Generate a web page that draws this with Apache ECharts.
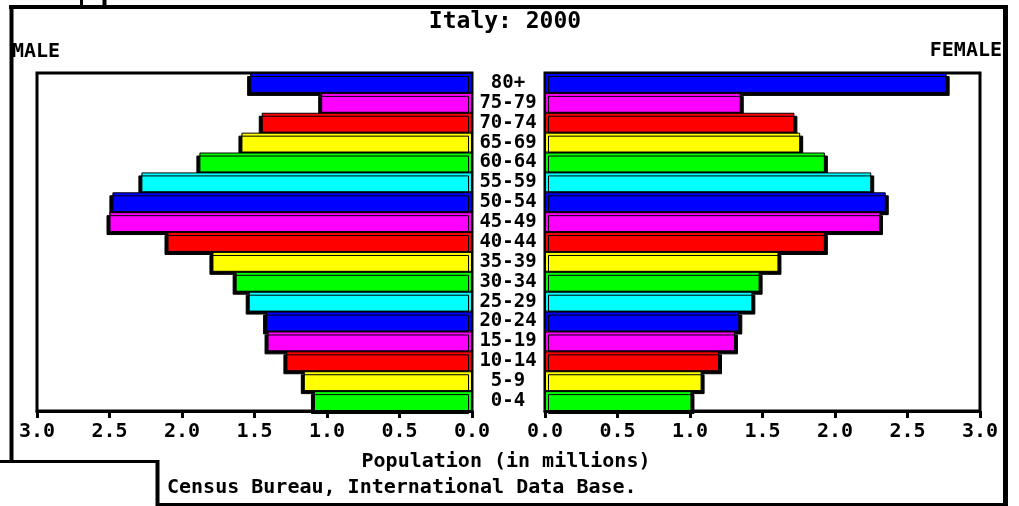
<!DOCTYPE html>
<html>
<head>
<meta charset="utf-8">
<title>Italy: 2000</title>
<script src="https://cdn.jsdelivr.net/npm/echarts@6/dist/echarts.min.js"></script>
<style>
  html, body { margin: 0; padding: 0; background: #fff; }
  #chart { width: 1019px; height: 506px; }
</style>
</head>
<body>
<div id="chart"></div>
<script>
// age groups listed top to bottom, as in the pyramid
const ageGroups = ["80+", "75-79", "70-74", "65-69", "60-64", "55-59", "50-54", "45-49", "40-44",
  "35-39", "30-34", "25-29", "20-24", "15-19", "10-14", "5-9", "0-4"];
const male = [1.53, 1.04, 1.45, 1.59, 1.88, 2.28, 2.48, 2.50, 2.10, 1.79, 1.63, 1.54, 1.42, 1.41, 1.28, 1.16, 1.09];
const female = [2.77, 1.35, 1.72, 1.76, 1.93, 2.25, 2.35, 2.31, 1.93, 1.61, 1.48, 1.43, 1.34, 1.31, 1.20, 1.08, 1.01];
// colours repeat from the youngest group upwards
const colorCycle = ["#00ff00", "#ffff00", "#ff0000", "#ff00ff", "#0000ff", "#00ffff"];
const xTicks = [0, 0.5, 1, 1.5, 2, 2.5, 3];

const FONT = "DejaVu Sans Mono";
const chart = echarts.init(document.getElementById("chart"), null, { renderer: "canvas" });

function colorFor(index) {
  const fromBottom = ageGroups.length - 1 - index;
  return colorCycle[fromBottom % colorCycle.length];
}

function barData(values) {
  return values.map((value, i) => ({ value, itemStyle: { color: colorFor(i) } }));
}

function valueAxis(gridIndex, inverse) {
  return {
    type: "value",
    gridIndex,
    inverse,
    min: xTicks[0],
    max: xTicks[xTicks.length - 1],
    interval: 0.5,
    axisLine: { show: true, lineStyle: { color: "#000", width: 3 } },
    axisTick: { show: true, length: 7, lineStyle: { color: "#000", width: 3 } },
    splitLine: { show: false },
    axisLabel: {
      color: "#000",
      fontFamily: FONT,
      fontWeight: "bold",
      fontSize: 20,
      margin: 11,
      formatter: (v) => v.toFixed(1),
    },
  };
}

function line(x1, y1, x2, y2, width) {
  return {
    type: "line",
    shape: { x1, y1, x2, y2 },
    style: { stroke: "#000", lineWidth: width },
    silent: true,
  };
}

function label(text, x, y, align, size) {
  return {
    type: "text",
    x,
    y,
    style: {
      text,
      fill: "#000",
      font: `bold ${size || 20}px "${FONT}"`,
      align,
      verticalAlign: "middle",
    },
    silent: true,
  };
}

const barStyle = (dx) => ({
  borderColor: "#000",
  borderWidth: 1,
  shadowColor: "#000",
  shadowBlur: 0,
  shadowOffsetX: dx,
  shadowOffsetY: 3,
});

chart.setOption({
  animation: false,
  backgroundColor: "#fff",
  grid: [
    { left: 37, top: 73, width: 435, height: 338, show: true, borderColor: "#000", borderWidth: 3, backgroundColor: "#fff" },
    { left: 545, top: 73, width: 435, height: 338, show: true, borderColor: "#000", borderWidth: 3, backgroundColor: "#fff" },
  ],
  xAxis: [valueAxis(0, true), valueAxis(1, false)],
  yAxis: [
    {
      type: "category",
      gridIndex: 0,
      data: ageGroups,
      inverse: true,
      position: "right",
      axisLine: { show: false },
      axisTick: { show: false },
      axisLabel: { show: false },
    },
    {
      type: "category",
      gridIndex: 1,
      data: ageGroups,
      inverse: true,
      position: "left",
      axisLine: { show: false },
      axisTick: { show: false },
      axisLabel: {
        interval: 0,
        align: "center",
        margin: 37,
        color: "#000",
        fontFamily: FONT,
        fontWeight: "bold",
        fontSize: 19,
      },
    },
  ],
  series: [
    {
      name: "Male",
      type: "bar",
      xAxisIndex: 0,
      yAxisIndex: 0,
      barCategoryGap: "0%",
      itemStyle: barStyle(-3),
      data: barData(male),
    },
    {
      name: "Female",
      type: "bar",
      xAxisIndex: 1,
      yAxisIndex: 1,
      barCategoryGap: "0%",
      itemStyle: barStyle(3),
      data: barData(female),
    },
  ],
  graphic: [
    // window frame around the plot
    line(9, 7, 1008, 7, 4),
    line(11.5, 5, 11.5, 461, 4),
    line(1005.5, 5, 1005.5, 506, 5),
    line(157, 504.5, 1008, 504.5, 3),
    line(0, 461.5, 159, 461.5, 3),
    line(157.5, 460, 157.5, 506, 4),
    line(81.5, 0, 81.5, 6, 3),
    line(104.5, 0, 104.5, 6, 4),
    label("Italy: 2000", 505, 22, "center", 23),
    label("MALE", 12, 52, "left"),
    label("FEMALE", 1002, 51, "right"),
    label("Population (in millions)", 506, 462, "center"),
    label("Census Bureau, International Data Base.", 167, 488, "left"),
  ],
});

window.addEventListener("resize", () => chart.resize());
</script>
</body>
</html>
